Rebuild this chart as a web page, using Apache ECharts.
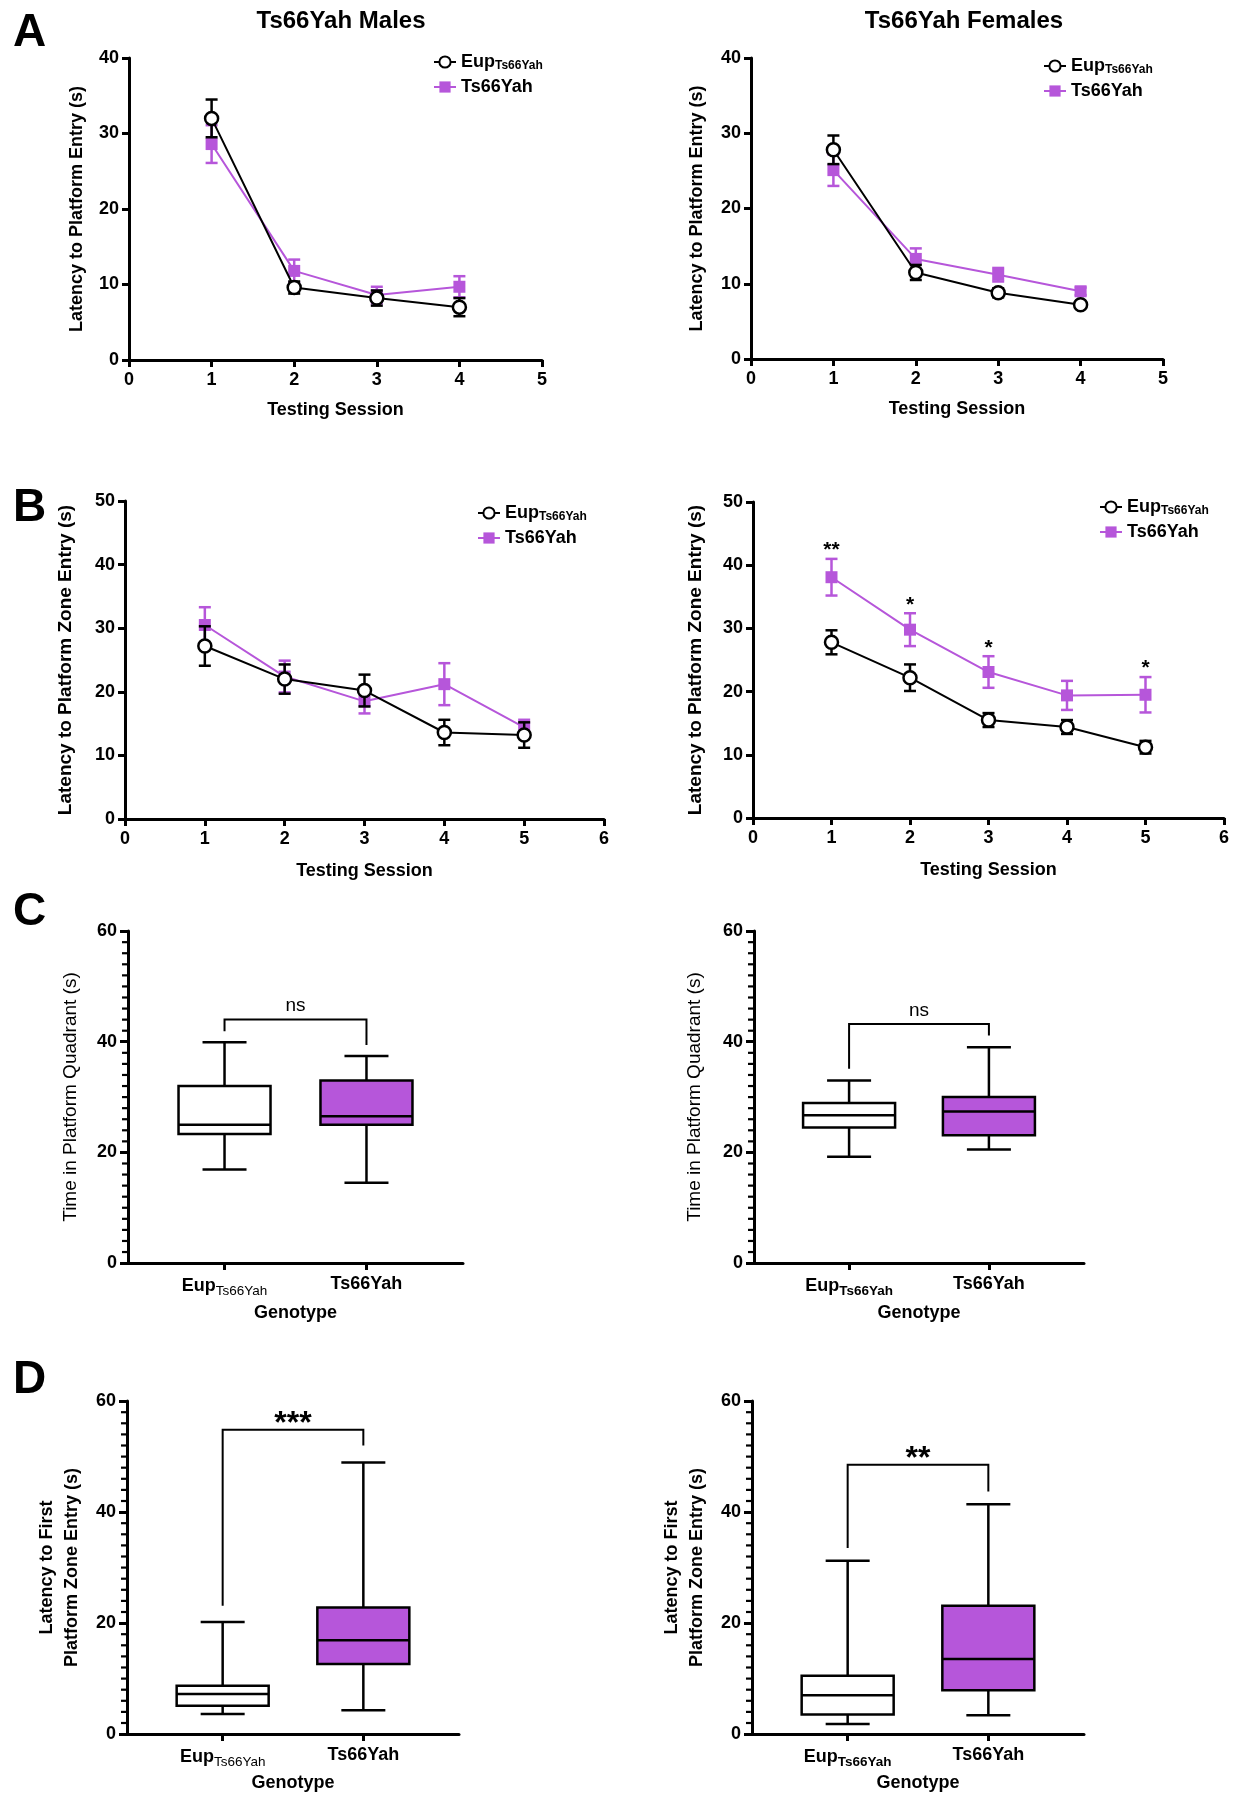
<!DOCTYPE html>
<html>
<head>
<meta charset="utf-8">
<script src="https://cdn.jsdelivr.net/npm/echarts@6/dist/echarts.min.js"></script>
<style>
  html, body { margin: 0; padding: 0; background: #fff; }
  #chart { width: 1241px; height: 1800px; }
</style>
</head>
<body>
<div id="chart"></div>
<script>
// sessions
var sessionsA = [1, 2, 3, 4];
var sessionsB = [1, 2, 3, 4, 5];

// A: latency to platform entry (mean, sem)
var maleEntryEupMean = [32.0, 9.6, 8.2, 7.0];
var maleEntryEupSem = [2.5, 0.8, 1.0, 1.2];
var maleEntryTsMean = [28.6, 11.8, 8.6, 9.7];
var maleEntryTsSem = [2.5, 1.5, 1.1, 1.4];
var femaleEntryEupMean = [27.8, 11.5, 8.8, 7.2];
var femaleEntryEupSem = [1.9, 1.0, 0.6, 0.4];
var femaleEntryTsMean = [25.1, 13.3, 11.2, 9.0];
var femaleEntryTsSem = [2.1, 1.4, 0.9, 0.5];

// B: latency to platform zone entry
var maleZoneEupMean = [27.2, 22.0, 20.2, 13.6, 13.2];
var maleZoneEupSem = [3.1, 2.3, 2.5, 2.0, 2.0];
var maleZoneTsMean = [30.5, 22.4, 18.5, 21.2, 14.4];
var maleZoneTsSem = [2.8, 2.5, 1.9, 3.3, 1.2];
var femaleZoneEupMean = [27.8, 22.2, 15.5, 14.4, 11.2];
var femaleZoneEupSem = [1.9, 2.1, 1.1, 1.1, 1.0];
var femaleZoneTsMean = [38.1, 29.8, 23.1, 19.4, 19.5];
var femaleZoneTsSem = [2.9, 2.6, 2.5, 2.3, 2.8];
var femaleZoneStars = ['**', '*', '*', '', '*'];

// C / D boxes: [min, q1, median, q3, max]
var maleQuadEup = [16.9, 23.3, 25.0, 32.0, 39.9];
var maleQuadTs = [14.5, 25.0, 26.5, 33.0, 37.4];
var femaleQuadEup = [19.2, 24.5, 26.7, 28.9, 33.0];
var femaleQuadTs = [20.5, 23.1, 27.4, 30.0, 39.0];
var maleFirstEup = [3.6, 5.1, 7.2, 8.7, 20.2];
var maleFirstTs = [4.3, 12.6, 16.9, 22.8, 48.9];
var femaleFirstEup = [1.8, 3.5, 7.0, 10.5, 31.2];
var femaleFirstTs = [3.4, 7.9, 13.5, 23.1, 41.4];

// brackets: [top, left leg end, right leg end]
var maleQuadSig = [44.0, 41.9, 39.4];
var femaleQuadSig = [43.2, 35.1, 41.1];
var maleFirstSig = [54.8, 23.1, 52.0];
var femaleFirstSig = [48.5, 33.5, 43.7];
var sigLabels = ['ns', 'ns', '***', '**'];

var genotypes = ['Eup', 'Ts66Yah'];

var FONT = 'Liberation Sans, Arial, sans-serif';
var PURPLE = '#B656DA';

// small ticks every 2 s on the 0-60 axes of C and D
var boxMinorTicks = [];
for (var t = 2; t < 60; t += 2) { if (t % 20 !== 0) boxMinorTicks.push(t); }

var chart = echarts.init(document.getElementById('chart'));

function pairs(xs, ys) {
    return xs.map(function (x, i) { return [x, ys[i]]; });
}
function triples(xs, m, e) {
    return xs.map(function (x, i) { return [x, m[i], e[i]]; });
}

function errRender(color) {
    return function (params, api) {
        var x = api.value(0), m = api.value(1), e = api.value(2);
        var t = api.coord([x, m + e]), b = api.coord([x, m - e]);
        var w = 6, st = { stroke: color, lineWidth: 2.5 };
        return {
            type: 'group', children: [
                { type: 'line', shape: { x1: t[0], y1: t[1], x2: b[0], y2: b[1] }, style: st },
                { type: 'line', shape: { x1: t[0] - w, y1: t[1], x2: t[0] + w, y2: t[1] }, style: st },
                { type: 'line', shape: { x1: b[0] - w, y1: b[1], x2: b[0] + w, y2: b[1] }, style: st }
            ]
        };
    };
}

function boxRender(params, api) {
    var x = api.value(0);
    var lo = api.coord([x, api.value(1)]), q1 = api.coord([x, api.value(2)]),
        md = api.coord([x, api.value(3)]), q3 = api.coord([x, api.value(4)]),
        hi = api.coord([x, api.value(5)]);
    var half = 46, cap = 22, cx = q1[0];
    var st = { stroke: '#000', lineWidth: 2.5 };
    return {
        type: 'group', children: [
            { type: 'line', shape: { x1: cx, y1: q3[1], x2: cx, y2: hi[1] }, style: st },
            { type: 'line', shape: { x1: cx, y1: q1[1], x2: cx, y2: lo[1] }, style: st },
            { type: 'line', shape: { x1: cx - cap, y1: hi[1], x2: cx + cap, y2: hi[1] }, style: st },
            { type: 'line', shape: { x1: cx - cap, y1: lo[1], x2: cx + cap, y2: lo[1] }, style: st },
            { type: 'rect', shape: { x: cx - half, y: q3[1], width: half * 2, height: q1[1] - q3[1] },
              style: { fill: params.dataIndex === 1 ? PURPLE : '#fff', stroke: '#000', lineWidth: 2.5 } },
            { type: 'line', shape: { x1: cx - half, y1: md[1], x2: cx + half, y2: md[1] }, style: st }
        ]
    };
}

function bracketRender(label, big) {
    return function (params, api) {
        var top = api.value(2);
        var a = api.coord([api.value(0), top]), b = api.coord([api.value(1), top]);
        var la = api.coord([api.value(0), api.value(3)]), rb = api.coord([api.value(1), api.value(4)]);
        return {
            type: 'group', children: [
                { type: 'polyline', shape: { points: [[la[0], la[1]], [a[0], a[1]], [b[0], b[1]], [rb[0], rb[1]]] }, style: { stroke: '#000', lineWidth: 2, fill: null } },
                { type: 'text', style: {
                    text: label, x: (a[0] + b[0]) / 2, y: a[1] + (big ? 10 : -4),
                    align: 'center', verticalAlign: 'bottom', fill: '#000',
                    font: (big ? 'bold 32px ' : 'normal 19px ') + FONT } }
            ]
        };
    };
}

// little ticks drawn from the x axis min edge of the grid
function minorRender(params, api) {
    var lo = api.coord([api.value(0), 0]);
    var p = api.coord([api.value(0), api.value(1)]);
    var x0 = params.coordSys ? params.coordSys.x : lo[0];
    return { type: 'rect', shape: { x: x0 - 6, y: p[1] - 1, width: 6, height: 2.2 }, style: { fill: '#000' } };
}

function starRender(params, api) {
    var s = femaleZoneStars[params.dataIndex];
    var p = api.coord([api.value(0), api.value(1) + api.value(2)]);
    return { type: 'text', style: { text: s, x: p[0], y: p[1] + 2, align: 'center', verticalAlign: 'bottom', fill: '#000', font: 'bold 21px ' + FONT } };
}

var grids = [
    { left: 129, top: 58, width: 413, height: 302 },
    { left: 751, top: 58, width: 412, height: 301 },
    { left: 125, top: 501, width: 479, height: 318 },
    { left: 753, top: 502, width: 471, height: 316 },
    { left: 128, top: 931, width: 335, height: 332 },
    { left: 754, top: 931, width: 330, height: 332 },
    { left: 127, top: 1401, width: 332, height: 333 },
    { left: 752, top: 1401, width: 332, height: 333 }
];

var axisLine = { lineStyle: { color: '#000', width: 3 } };
var axisTick = { show: true, inside: false, length: 7, lineStyle: { color: '#000', width: 3 } };
var tickLabel = { color: '#000', fontFamily: FONT, fontWeight: 'bold', fontSize: 18 };

function lineX(gi, max) {
    return {
        gridIndex: gi, type: 'value', min: 0, max: max, interval: 1,
        name: 'Testing Session', nameLocation: 'middle', nameGap: gi < 2 ? 41 : 43,
        nameTextStyle: { color: '#000', fontFamily: FONT, fontWeight: 'bold', fontSize: 18 },
        axisLine: axisLine, axisTick: axisTick, splitLine: { show: false },
        axisLabel: Object.assign({ margin: 11 }, tickLabel)
    };
}
function lineY(gi, max, name, gap, size) {
    return {
        gridIndex: gi, type: 'value', min: 0, max: max, interval: 10,
        name: name, nameLocation: 'middle', nameGap: gap,
        nameTextStyle: { color: '#000', fontFamily: FONT, fontWeight: 'bold', fontSize: size },
        axisLine: axisLine, axisTick: axisTick, splitLine: { show: false },
        axisLabel: Object.assign({ margin: 10 }, tickLabel)
    };
}
function boxX(gi, subBold) {
    return {
        gridIndex: gi, type: 'value', min: 0.32, max: 2.68,
        name: 'Genotype', nameLocation: 'middle', nameGap: gi < 6 ? 41 : 40,
        nameTextStyle: { color: '#000', fontFamily: FONT, fontWeight: 'bold', fontSize: 18 },
        axisLine: axisLine, splitLine: { show: false },
        axisTick: Object.assign({ customValues: [1, 2] }, axisTick),
        axisLabel: {
            customValues: [1, 2], margin: 12,
            formatter: function (v) {
                return v === 1 ? '{a|' + genotypes[0] + '}{b|Ts66Yah}' : '{a|' + genotypes[1] + '}';
            },
            rich: {
                a: { color: '#000', fontFamily: FONT, fontWeight: 'bold', fontSize: 18 },
                b: { color: '#000', fontFamily: FONT, fontWeight: subBold ? 'bold' : 'normal', fontSize: 13.5, padding: [9, 0, 0, 0] }
            }
        }
    };
}
function boxY(gi, name, gap, weight, size) {
    return {
        gridIndex: gi, type: 'value', min: 0, max: 60, interval: 20,
        name: name, nameLocation: 'middle', nameGap: gap,
        nameTextStyle: { color: '#000', fontFamily: FONT, fontWeight: weight, fontSize: size, lineHeight: 25 },
        axisLine: axisLine, splitLine: { show: false },
        axisTick: Object.assign({}, axisTick, { length: 8 }),
        axisLabel: Object.assign({ margin: 11 }, tickLabel)
    };
}

var xAxes = [lineX(0, 5), lineX(1, 5), lineX(2, 6), lineX(3, 6),
    boxX(4, false), boxX(5, true), boxX(6, false), boxX(7, true)];
var yAxes = [
    lineY(0, 40, 'Latency to Platform Entry (s)', 43, 18),
    lineY(1, 40, 'Latency to Platform Entry (s)', 45, 18),
    lineY(2, 50, 'Latency to Platform Zone Entry (s)', 50, 19),
    lineY(3, 50, 'Latency to Platform Zone Entry (s)', 48, 19),
    boxY(4, 'Time in Platform Quadrant (s)', 45, 'normal', 19),
    boxY(5, 'Time in Platform Quadrant (s)', 47, 'normal', 19),
    boxY(6, 'Latency to First\nPlatform Zone Entry (s)', 42, 'bold', 18),
    boxY(7, 'Latency to First\nPlatform Zone Entry (s)', 42, 'bold', 18)
];

var series = [];
function linePanel(gi, xs, eM, eS, tM, tS) {
    series.push({ type: 'custom', xAxisIndex: gi, yAxisIndex: gi, renderItem: errRender(PURPLE), data: triples(xs, tM, tS), z: 1 });
    series.push({ type: 'custom', xAxisIndex: gi, yAxisIndex: gi, renderItem: errRender('#000'), data: triples(xs, eM, eS), z: 3 });
    series.push({
        name: 'Ts66Yah', type: 'line', xAxisIndex: gi, yAxisIndex: gi, data: pairs(xs, tM), z: 2,
        symbol: 'rect', symbolSize: 12, itemStyle: { color: PURPLE }, lineStyle: { color: PURPLE, width: 2 }
    });
    series.push({
        name: 'Eup', type: 'line', xAxisIndex: gi, yAxisIndex: gi, data: pairs(xs, eM), z: 4,
        symbol: 'circle', symbolSize: 13, itemStyle: { color: '#fff', borderColor: '#000', borderWidth: 2.5 },
        lineStyle: { color: '#000', width: 2 }
    });
}
linePanel(0, sessionsA, maleEntryEupMean, maleEntryEupSem, maleEntryTsMean, maleEntryTsSem);
linePanel(1, sessionsA, femaleEntryEupMean, femaleEntryEupSem, femaleEntryTsMean, femaleEntryTsSem);
linePanel(2, sessionsB, maleZoneEupMean, maleZoneEupSem, maleZoneTsMean, maleZoneTsSem);
linePanel(3, sessionsB, femaleZoneEupMean, femaleZoneEupSem, femaleZoneTsMean, femaleZoneTsSem);
series.push({ type: 'custom', xAxisIndex: 3, yAxisIndex: 3, renderItem: starRender, data: triples(sessionsB, femaleZoneTsMean, femaleZoneTsSem), z: 5 });

function boxPanel(gi, eup, ts, sig, label) {
    series.push({ type: 'custom', xAxisIndex: gi, yAxisIndex: gi, renderItem: boxRender,
        data: [[1].concat(eup), [2].concat(ts)] });
    series.push({ type: 'custom', xAxisIndex: gi, yAxisIndex: gi, renderItem: bracketRender(label, label !== 'ns'),
        data: [[1, 2].concat(sig)] });
    series.push({ type: 'custom', xAxisIndex: gi, yAxisIndex: gi, renderItem: minorRender, clip: false, z: 10,
        data: boxMinorTicks.map(function (v) { return [1, v]; }) });
}
boxPanel(4, maleQuadEup, maleQuadTs, maleQuadSig, sigLabels[0]);
boxPanel(5, femaleQuadEup, femaleQuadTs, femaleQuadSig, sigLabels[1]);
boxPanel(6, maleFirstEup, maleFirstTs, maleFirstSig, sigLabels[2]);
boxPanel(7, femaleFirstEup, femaleFirstTs, femaleFirstSig, sigLabels[3]);

function legendAt(left, top) {
    return {
        left: left, top: top, orient: 'vertical', itemGap: 6, itemWidth: 22, itemHeight: 14,
        data: ['Eup', 'Ts66Yah'], selectedMode: false,
        formatter: function (n) { return n === 'Eup' ? '{a|Eup}{b|Ts66Yah}' : '{a|Ts66Yah}'; },
        textStyle: {
            rich: {
                a: { color: '#000', fontFamily: FONT, fontWeight: 'bold', fontSize: 18 },
                b: { color: '#000', fontFamily: FONT, fontWeight: 'bold', fontSize: 12, padding: [8, 0, 0, 0] }
            }
        }
    };
}

function letter(t, top) {
    return { text: t, left: 8, top: top, textStyle: { color: '#000', fontFamily: FONT, fontWeight: 'bold', fontSize: 46 } };
}
function head(t, x) {
    return { text: t, left: x, top: 4, textAlign: 'center', textStyle: { color: '#000', fontFamily: FONT, fontWeight: 'bold', fontSize: 24 } };
}

var option = {
    animation: false,
    backgroundColor: '#fff',
    title: [head('Ts66Yah Males', 336), head('Ts66Yah Females', 959),
        letter('A', 5), letter('B', 480), letter('C', 884), letter('D', 1352)],
    legend: [legendAt(428, 48), legendAt(1038, 52), legendAt(472, 499), legendAt(1094, 493)],
    grid: grids,
    xAxis: xAxes,
    yAxis: yAxes,
    series: series
};
chart.setOption(option);
</script>
</body>
</html>
